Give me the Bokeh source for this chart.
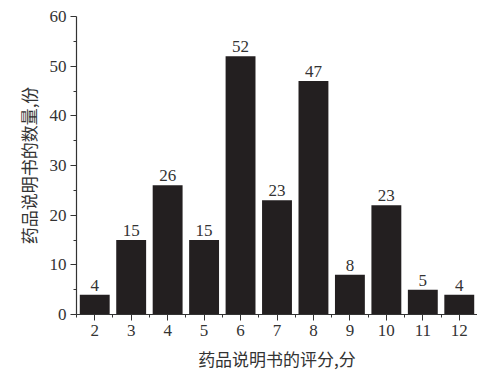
from bokeh.plotting import figure
from bokeh.models import ColumnDataSource, FixedTicker, Range1d
from bokeh.core.properties import value
from bokeh.embed import file_html
from bokeh.resources import INLINE

scores = [2, 3, 4, 5, 6, 7, 8, 9, 10, 11, 12]
counts = [4, 15, 26, 15, 52, 23, 47, 8, 22, 5, 4]
count_labels = ["4", "15", "26", "15", "52", "23", "47", "8", "23", "5", "4"]
y_ticks = [0, 10, 20, 30, 40, 50, 60]
x_title = "药品说明书的评分,分"
y_title = "药品说明书的数量,份"

src = ColumnDataSource(dict(x=scores, top=counts, lab=count_labels))

TEXT = "#333333"
BAR = "#231f20"
NUM_FONT = "'Liberation Serif', 'DejaVu Serif', serif"
CJK_FONT = "'Noto Sans CJK SC'"

p = figure(width=477, height=373, output_backend="svg", toolbar_location=None,
           x_range=Range1d(1.5, 12.5), y_range=Range1d(0, 60),
           min_border_left=76, min_border_right=0, min_border_top=16, min_border_bottom=59)
p.outline_line_color = None
p.xgrid.visible = False
p.ygrid.visible = False
p.background_fill_color = "white"
p.border_fill_color = "white"

p.vbar(x="x", top="top", width=0.82, bottom=0, source=src, fill_color=BAR, line_color=None)
p.text(x="x", y="top", text="lab", source=src, text_align="center", text_baseline="bottom",
       y_offset=-4, text_font=value(NUM_FONT), text_font_size="17px", text_color=TEXT)

for ax in (p.xaxis[0], p.yaxis[0]):
    ax.axis_line_color = TEXT
    ax.axis_line_width = 1.2
    ax.major_tick_line_color = TEXT
    ax.minor_tick_line_color = TEXT
    ax.major_tick_out = 6
    ax.major_tick_in = 0
    ax.minor_tick_out = 3
    ax.minor_tick_in = 0
    ax.major_label_text_font = NUM_FONT
    ax.major_label_text_font_size = "17px"
    ax.major_label_text_color = TEXT
    ax.axis_label_text_font = CJK_FONT
    ax.axis_label_text_font_size = "17px"
    ax.axis_label_text_font_style = "normal"
    ax.axis_label_text_color = TEXT

p.xaxis.ticker = FixedTicker(ticks=scores, minor_ticks=[s - 0.5 for s in scores] + [12.5])
p.yaxis.ticker = FixedTicker(ticks=y_ticks, minor_ticks=[5, 15, 25, 35, 45, 55])
p.xaxis.major_label_standoff = 4
p.yaxis.major_label_standoff = 4
p.xaxis.axis_label = x_title
p.yaxis.axis_label = y_title
p.xaxis.axis_label_standoff = 7
p.yaxis.axis_label_standoff = 6

open("out.html", "w").write(file_html(p, INLINE))
